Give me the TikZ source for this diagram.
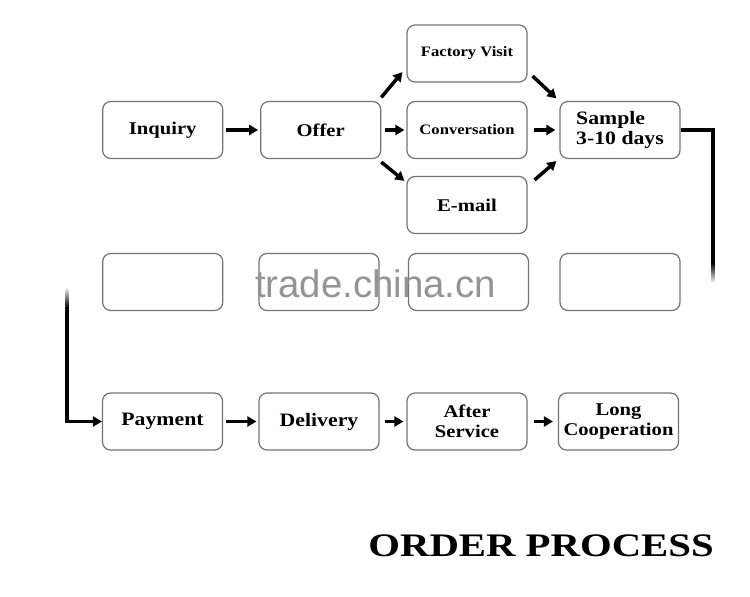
\documentclass[tikz,border=0pt]{standalone}
\usepackage{fontspec}
\setmainfont{Liberation Serif}[FakeStretch=1.15]
\newfontfamily\titlefont{Liberation Serif}[FakeStretch=1.24]
\newfontfamily\markfont{Liberation Sans}
\usetikzlibrary{arrows.meta}

\tikzset{
	box/.style={draw=black!55, line width=1.2bp, rounded corners=8bp, minimum width=120bp, minimum height=57bp, inner sep=0pt, font=\bfseries\fontsize{18}{20}\selectfont, align=center},
	arr/.style={-{Triangle[length=9bp,width=10bp]}, line width=3.5bp, shorten <=3bp, shorten >=2bp},
	link/.style={line width=3.5bp}
}

\begin{document}
\begin{tikzpicture}[x=1bp, y=1bp]

	\useasboundingbox (0,0) rectangle (750,597);

	% draw first row
	\node[box] (inquiry) at (162.7,467) {Inquiry};
	\node[box] (offer) at (320.7,467) {Offer};
	\node[box, font=\bfseries\fontsize{14.5}{16}\selectfont] (visit) at (467,543.5) {Factory Visit};
	\node[box, font=\bfseries\fontsize{14.5}{16}\selectfont] (conv) at (467,467) {Conversation};
	\node[box] (email) at (467,392) {E-mail};
	\node[box, align=left, font=\bfseries\fontsize{19}{20.5}\selectfont] (sample) at (620,467) {Sample\\3-10 days};

	% draw blank row
	\foreach \x [count=\s] in {162.7,319,468.5,620}
	{
		\node[box] (blank_\s) at (\x,315) {};
	}
	\node[anchor=base west, inner sep=0pt, text=black!42, font=\markfont\fontsize{38.5}{40}\selectfont] (mark) at (255,299.7) {trade.china.cn};

	% draw last row
	\node[box, font=\bfseries\fontsize{19}{20}\selectfont] (payment) at (162.5,175.5) {Payment};
	\node[box, font=\bfseries\fontsize{19}{20}\selectfont] (delivery) at (319,175.5) {Delivery};
	\node[box] (after) at (467,175.5) {After\\Service};
	\node[box] (long) at (618.5,175.5) {Long\\Cooperation};

	% draw edges
	\draw[arr] (inquiry) -- (offer);
	\draw[arr, shorten <=0pt, shorten >=0pt] ([yshift=3.5bp]offer.north east) -- ([shift={(-4bp,10.5bp)}]visit.south west);
	\draw[arr, shorten <=4bp] (offer) -- (conv);
	\draw[arr, shorten <=0pt, shorten >=0pt] ([yshift=-3bp]offer.south east) -- ([shift={(-2bp,-5bp)}]email.north west);
	\draw[arr, shorten <=0pt, shorten >=0pt] ([shift={(5bp,6.5bp)}]visit.south east) -- ([shift={(-3bp,2.5bp)}]sample.north west);
	\draw[arr, shorten <=6bp, shorten >=4bp] (conv) -- (sample);
	\draw[arr, shorten <=0pt, shorten >=0pt] ([shift={(7bp,-4bp)}]email.north east) -- ([shift={(-3bp,-2bp)}]sample.south west);

	% draw link between rows
	\coordinate (fade_r) at (713,334);
	\coordinate (fade_l) at (67,290);
	\draw[link] (sample.east) -| (fade_r);
	\shade[top color=black, bottom color=white] (711.25,334) rectangle (714.75,314);
	\shade[top color=white, bottom color=black] (65.25,310) rectangle (68.75,290);
	\draw[arr, shorten <=0pt, shorten >=0pt] (fade_l) |- (payment.west);

	\draw[arr] (payment) -- (delivery);
	\draw[arr, shorten <=5bp, shorten >=3bp] (delivery) -- (after);
	\draw[arr, shorten <=6bp, shorten >=5bp] (after) -- (long);

	% draw title
	\node[anchor=base east, inner sep=0pt, font=\titlefont\bfseries\fontsize{33}{36}\selectfont] (title) at (714,40.5) {ORDER PROCESS};

\end{tikzpicture}
\end{document}
